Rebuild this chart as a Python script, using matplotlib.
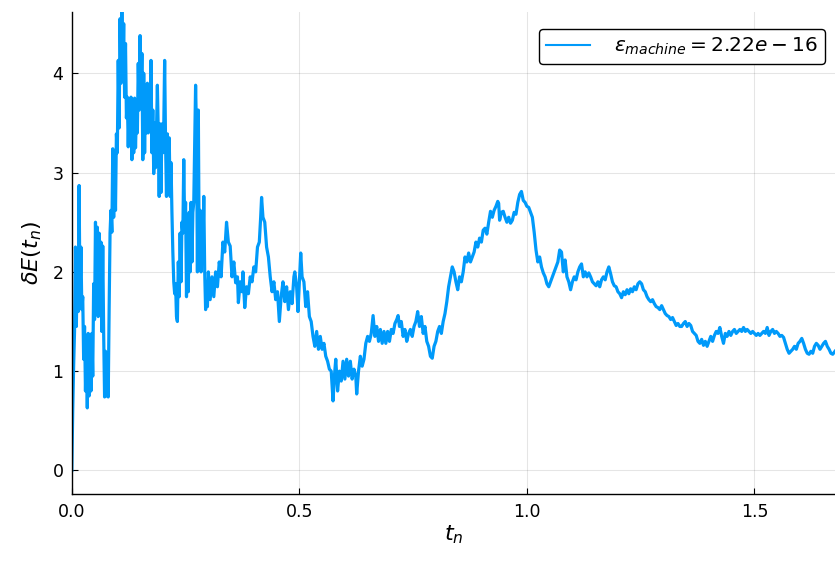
import numpy as np
import matplotlib
matplotlib.use("Agg")
import matplotlib.pyplot as plt

# -----------------------------
# Data (t_n, deltaE)
# -----------------------------
t_early = [0.000, 0.002, 0.004, 0.006, 0.008, 0.010, 0.012, 0.014, 0.016, 0.018,
           0.020, 0.022, 0.024, 0.026, 0.028, 0.030, 0.032, 0.034, 0.036, 0.038,
           0.040, 0.042, 0.044, 0.046, 0.048, 0.050, 0.052, 0.054, 0.056, 0.058,
           0.060, 0.062, 0.064, 0.066, 0.068, 0.070, 0.072, 0.074, 0.076, 0.078,
           0.080, 0.082, 0.084, 0.086, 0.088, 0.090, 0.092, 0.094, 0.096, 0.098,
           0.100, 0.102, 0.104, 0.106, 0.108, 0.110, 0.112, 0.114, 0.116, 0.118,
           0.120, 0.122, 0.124, 0.126, 0.128, 0.130, 0.132, 0.134, 0.136, 0.138,
           0.140, 0.142, 0.144, 0.146, 0.148, 0.150, 0.152, 0.154, 0.156, 0.158,
           0.160, 0.162, 0.164, 0.166, 0.168, 0.170, 0.172, 0.174, 0.176, 0.178,
           0.180, 0.182, 0.184, 0.186, 0.188, 0.190, 0.192, 0.194, 0.196, 0.198,
           0.200, 0.202, 0.204, 0.206, 0.208, 0.210, 0.212, 0.214, 0.216, 0.218,
           0.220, 0.222, 0.224, 0.226, 0.228, 0.230, 0.232, 0.234, 0.236, 0.238,
           0.240, 0.242, 0.244, 0.246, 0.248, 0.250, 0.252, 0.254, 0.256, 0.258,
           0.260, 0.262, 0.264, 0.266, 0.268, 0.270, 0.272, 0.274, 0.276, 0.278,
           0.280, 0.282, 0.284, 0.286, 0.288, 0.290, 0.292, 0.294, 0.296, 0.298]
dE_early = [0.00, 0.60, 1.05, 1.40, 2.25, 1.45, 2.20, 1.60, 2.87, 1.70,
            2.25, 1.62, 1.75, 1.12, 1.45, 0.80, 1.30, 0.63, 1.38, 0.75,
            1.35, 0.80, 1.38, 0.95, 1.88, 1.52, 2.50, 1.80, 2.45, 1.55,
            2.39, 1.60, 2.30, 1.40, 2.26, 1.38, 0.74, 1.20, 0.75, 1.10,
            0.74, 1.62, 2.39, 2.62, 2.40, 3.24, 2.55, 3.10, 2.62, 3.39,
            3.20, 4.13, 3.45, 4.55, 3.90, 4.62, 4.00, 4.50, 3.76, 4.30,
            3.55, 3.76, 3.26, 3.70, 3.30, 3.76, 3.13, 3.70, 3.20, 3.75,
            3.25, 3.60, 3.40, 4.10, 3.63, 4.38, 3.65, 4.20, 3.13, 4.00,
            3.20, 3.85, 3.40, 3.90, 3.40, 3.80, 3.45, 4.13, 3.20, 3.63,
            2.99, 3.50, 3.05, 3.40, 3.88, 3.40, 2.76, 3.49, 2.80, 3.49,
            3.20, 3.45, 4.13, 3.30, 2.76, 3.39, 2.80, 3.35, 2.76, 3.10,
            2.60, 2.20, 1.90, 1.78, 1.88, 1.55, 1.50, 2.10, 1.75, 2.39,
            1.90, 2.50, 2.39, 3.13, 2.45, 2.70, 1.75, 2.40, 1.80, 2.60,
            2.00, 2.70, 2.10, 2.60, 2.70, 3.30, 3.88, 3.40, 2.00, 3.63,
            2.10, 2.62, 2.00, 2.50, 2.20, 2.76, 2.00, 1.62, 1.90, 1.65]

t_mid = [0.300, 0.304, 0.308, 0.312, 0.316, 0.320, 0.324, 0.328, 0.332, 0.336,
         0.340, 0.344, 0.348, 0.352, 0.356, 0.360, 0.364, 0.366, 0.370, 0.374,
         0.376, 0.380, 0.384, 0.388, 0.392, 0.396, 0.400, 0.404, 0.408, 0.412,
         0.415, 0.417, 0.420, 0.424, 0.428, 0.432, 0.436, 0.440, 0.444, 0.448,
         0.452, 0.456, 0.460, 0.464, 0.468, 0.472, 0.476, 0.480, 0.484, 0.488,
         0.490, 0.494, 0.497, 0.500, 0.503, 0.506, 0.510, 0.514, 0.518, 0.522,
         0.526, 0.530, 0.534, 0.538, 0.542, 0.546, 0.550, 0.554, 0.558, 0.562,
         0.566, 0.570, 0.574, 0.577, 0.580, 0.584, 0.588, 0.592, 0.596, 0.600,
         0.604, 0.608, 0.612, 0.616, 0.620, 0.624, 0.626, 0.630, 0.634, 0.638,
         0.642, 0.646, 0.650, 0.654, 0.658, 0.662, 0.666, 0.670, 0.674, 0.678,
         0.682, 0.686, 0.690, 0.694, 0.698, 0.702, 0.706, 0.710, 0.714, 0.717,
         0.720, 0.724, 0.728, 0.732, 0.736, 0.740, 0.744, 0.748, 0.752, 0.756,
         0.760, 0.764, 0.768, 0.772, 0.776, 0.780, 0.784, 0.788, 0.792, 0.796,
         0.800, 0.804, 0.808, 0.812, 0.816, 0.820, 0.824, 0.828, 0.832, 0.836,
         0.840, 0.844, 0.848, 0.852, 0.856, 0.860, 0.864, 0.868, 0.872, 0.876,
         0.880, 0.884, 0.888, 0.892, 0.896, 0.900, 0.904, 0.908, 0.912, 0.916,
         0.920, 0.924, 0.928, 0.932, 0.936, 0.938, 0.940, 0.944, 0.948, 0.952,
         0.956, 0.960, 0.964, 0.968, 0.972, 0.976, 0.980, 0.984, 0.988, 0.992,
         0.996, 1.000, 1.004, 1.008, 1.012, 1.016, 1.020, 1.024, 1.028, 1.032,
         1.036, 1.040, 1.044, 1.048, 1.052, 1.056, 1.060, 1.064, 1.068, 1.072,
         1.076, 1.080, 1.084, 1.088, 1.092, 1.096, 1.100, 1.104, 1.108, 1.112,
         1.116, 1.120, 1.124, 1.128, 1.132, 1.136, 1.140, 1.144, 1.148, 1.152,
         1.156, 1.160, 1.164, 1.168, 1.172, 1.176, 1.180, 1.184, 1.188, 1.192,
         1.196, 1.200, 1.204, 1.208, 1.212, 1.216, 1.220, 1.224, 1.228, 1.232,
         1.236, 1.240, 1.244, 1.248]
dE_mid = [2.00, 1.72, 1.95, 1.75, 2.00, 1.85, 2.10, 1.95, 2.30, 2.20,
          2.50, 2.30, 2.26, 1.95, 2.10, 1.89, 1.95, 1.69, 1.90, 1.80,
          2.00, 1.64, 1.85, 1.78, 1.95, 1.90, 2.05, 2.00, 2.25, 2.30,
          2.55, 2.75, 2.55, 2.50, 2.25, 2.15, 1.95, 1.80, 1.90, 1.72,
          1.80, 1.50, 1.75, 1.90, 1.70, 1.85, 1.62, 1.80, 1.68, 1.95,
          2.00, 1.85, 1.60, 1.90, 2.19, 1.95, 1.90, 1.65, 1.80, 1.55,
          1.50, 1.35, 1.25, 1.40, 1.22, 1.35, 1.22, 1.28, 1.15, 1.10,
          1.02, 1.00, 0.70, 0.95, 1.12, 0.80, 1.00, 0.90, 1.10, 0.92,
          1.12, 0.95, 1.10, 0.92, 1.02, 0.95, 0.77, 1.00, 1.15, 1.05,
          1.12, 1.28, 1.35, 1.30, 1.38, 1.56, 1.35, 1.45, 1.30, 1.42,
          1.28, 1.40, 1.28, 1.40, 1.30, 1.42, 1.38, 1.48, 1.52, 1.56,
          1.45, 1.50, 1.35, 1.42, 1.30, 1.38, 1.42, 1.35, 1.45, 1.50,
          1.60, 1.45, 1.55, 1.38, 1.45, 1.30, 1.25, 1.15, 1.13, 1.25,
          1.30, 1.40, 1.45, 1.38, 1.50, 1.58, 1.70, 1.85, 1.95, 2.05,
          2.00, 1.90, 1.82, 1.95, 1.90, 2.00, 2.15, 2.10, 2.19, 2.10,
          2.15, 2.20, 2.30, 2.25, 2.34, 2.30, 2.42, 2.44, 2.38, 2.50,
          2.61, 2.55, 2.62, 2.66, 2.71, 2.69, 2.52, 2.60, 2.61, 2.55,
          2.50, 2.55, 2.49, 2.52, 2.60, 2.58, 2.70, 2.78, 2.81, 2.72,
          2.70, 2.66, 2.65, 2.60, 2.55, 2.40, 2.22, 2.10, 2.15, 2.05,
          1.99, 1.95, 1.88, 1.85, 1.90, 1.95, 2.00, 2.05, 2.10, 2.22,
          2.20, 2.00, 2.12, 1.95, 1.90, 1.82, 1.90, 1.95, 1.92, 2.00,
          2.05, 2.08, 1.95, 2.00, 1.95, 1.99, 1.95, 1.90, 1.88, 1.86,
          1.90, 1.85, 1.92, 1.95, 1.92, 2.00, 2.05, 1.98, 1.90, 1.86,
          1.85, 1.80, 1.78, 1.74, 1.80, 1.77, 1.82, 1.78, 1.83, 1.80,
          1.85, 1.82, 1.88, 1.90]

t_late = [1.252, 1.256, 1.260, 1.264, 1.268, 1.272, 1.276, 1.280, 1.284, 1.288,
          1.292, 1.296, 1.300, 1.304, 1.308, 1.312, 1.316, 1.320, 1.324, 1.328,
          1.332, 1.336, 1.340, 1.344, 1.348, 1.352, 1.356, 1.360, 1.364, 1.368,
          1.372, 1.376, 1.380, 1.384, 1.388, 1.392, 1.396, 1.400, 1.404, 1.408,
          1.412, 1.416, 1.420, 1.424, 1.428, 1.432, 1.436, 1.440, 1.444, 1.448,
          1.452, 1.456, 1.460, 1.464, 1.468, 1.472, 1.476, 1.480, 1.484, 1.488,
          1.492, 1.496, 1.500, 1.504, 1.508, 1.512, 1.516, 1.520, 1.524, 1.528,
          1.532, 1.536, 1.540, 1.544, 1.548, 1.552, 1.556, 1.560, 1.564, 1.568,
          1.572, 1.576, 1.580, 1.584, 1.588, 1.592, 1.596, 1.600, 1.604, 1.608,
          1.612, 1.616, 1.620, 1.624, 1.628, 1.632, 1.636, 1.640, 1.644, 1.648,
          1.652, 1.656, 1.660, 1.664, 1.668, 1.672, 1.677]
dE_late = [1.88, 1.82, 1.80, 1.75, 1.72, 1.70, 1.72, 1.68, 1.65, 1.64,
           1.62, 1.66, 1.62, 1.58, 1.56, 1.55, 1.52, 1.54, 1.50, 1.46,
           1.48, 1.45, 1.45, 1.48, 1.50, 1.45, 1.48, 1.46, 1.40, 1.38,
           1.36, 1.30, 1.28, 1.32, 1.26, 1.30, 1.25, 1.30, 1.35, 1.30,
           1.36, 1.40, 1.38, 1.44, 1.35, 1.28, 1.38, 1.35, 1.40, 1.36,
           1.40, 1.42, 1.38, 1.40, 1.42, 1.40, 1.44, 1.40, 1.42, 1.40,
           1.38, 1.40, 1.38, 1.36, 1.38, 1.36, 1.38, 1.40, 1.38, 1.44,
           1.36, 1.40, 1.42, 1.38, 1.40, 1.38, 1.35, 1.36, 1.34, 1.28,
           1.22, 1.18, 1.20, 1.22, 1.25, 1.22, 1.28, 1.30, 1.33, 1.28,
           1.22, 1.18, 1.17, 1.20, 1.18, 1.25, 1.28, 1.26, 1.22, 1.25,
           1.28, 1.30, 1.25, 1.22, 1.18, 1.17, 1.20]

t_n = np.array(t_early + t_mid + t_late)
dE = np.array(dE_early + dE_mid + dE_late)

legend_label = r"$\varepsilon_{machine} = 2.22e-16$"

# -----------------------------
# Plot
# -----------------------------
fig = plt.figure(figsize=(8.35, 5.61), dpi=100)
ax = fig.add_axes([0.086, 0.119, 0.914, 0.86])

ax.plot(t_n, dE, color="#009AFA", lw=2.3, label=legend_label)

ax.set_xlim(0, 1.677)
ax.set_ylim(-0.24, 4.62)
ax.set_xticks([0.0, 0.5, 1.0, 1.5])
ax.set_xticklabels(["0.0", "0.5", "1.0", "1.5"])
ax.set_yticks([0, 1, 2, 3, 4])

ax.grid(True, color="#000000", alpha=0.1, lw=0.8)
ax.set_axisbelow(True)
for side in ["top", "right"]:
    ax.spines[side].set_visible(False)
for side in ["left", "bottom"]:
    ax.spines[side].set_linewidth(1.0)
ax.tick_params(direction="in", length=4, width=0.8, labelsize=12.5, pad=6)

ax.set_xlabel(r"$t_n$", fontsize=16, labelpad=2)
ax.set_ylabel(r"$\delta E(t_n)$", fontsize=16, labelpad=6)

leg = ax.legend(loc="upper right", fontsize=14.5, frameon=True, fancybox=True,
                handlelength=2.2, handletextpad=1.2, borderpad=0.35,
                bbox_to_anchor=(1.0, 0.985))
leg.get_legend_handles = None
for line in leg.get_lines():
    line.set_linewidth(1.5)
leg.get_frame().set_edgecolor("black")
leg.get_frame().set_linewidth(1.0)
leg.get_frame().set_alpha(1)

plt.savefig("out.png", dpi=100)
